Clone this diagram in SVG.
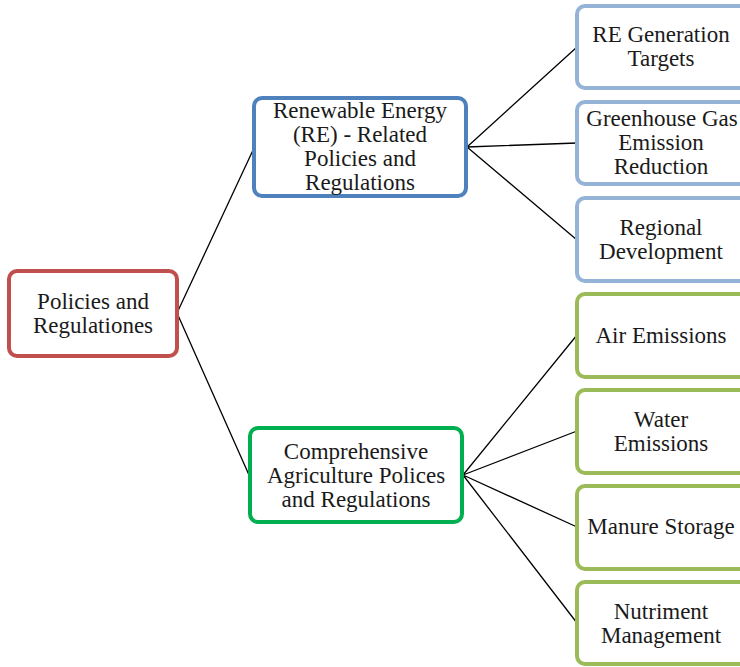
<svg xmlns="http://www.w3.org/2000/svg" width="740" height="667" viewBox="0 0 740 667">
<style>
.box{fill:#fff;stroke-width:4}
.t{font-family:"Liberation Serif","Times New Roman",serif;font-size:23px;fill:#1a1a1a;text-anchor:middle}
.c{stroke:#000;stroke-width:1.3;fill:none}
</style>
<rect width="740" height="667" fill="#fff"/>
<g id="connectors">
<path class="c" d="M177,313 L254,148 M177,313 L249,475"/>
<path class="c" d="M467,147 L577,47 M467,147 L577,143 M467,147 L577,240"/>
<path class="c" d="M463,475 L577,335 M463,475 L577,431 M463,475 L577,527 M463,475 L577,623"/>
</g>
<g id="root"><rect class="box" x="9" y="271" width="168" height="85" rx="8" stroke="#C0504D"/>
<text class="t" x="93" y="309">Policies and</text><text class="t" x="93" y="333">Regulationes</text></g>
<g id="re"><rect class="box" x="254" y="98" width="212" height="98" rx="8" stroke="#4F81BD"/>
<text class="t" x="360" y="118">Renewable Energy</text><text class="t" x="360" y="142">(RE) - Related</text><text class="t" x="360" y="166">Policies and</text><text class="t" x="360" y="190">Regulations</text></g>
<g id="agri"><rect class="box" x="250" y="428" width="212" height="94" rx="8" stroke="#00B050"/>
<text class="t" x="356" y="459">Comprehensive</text><text class="t" x="356" y="483">Agriculture Polices</text><text class="t" x="356" y="507">and Regulations</text></g>
<g id="re-gen"><rect class="box" x="577" y="6" width="170" height="82" rx="8" stroke="#95B3D7"/>
<text class="t" x="661" y="42">RE Generation</text><text class="t" x="661" y="66">Targets</text></g>
<g id="ghg"><rect class="box" x="577" y="102" width="170" height="82" rx="8" stroke="#95B3D7"/>
<text class="t" x="662" y="126">Greenhouse Gas</text><text class="t" x="661" y="150">Emission</text><text class="t" x="661" y="174">Reduction</text></g>
<g id="regional"><rect class="box" x="577" y="198" width="170" height="83" rx="8" stroke="#95B3D7"/>
<text class="t" x="661" y="235">Regional</text><text class="t" x="661" y="259">Development</text></g>
<g id="air"><rect class="box" x="577" y="294" width="170" height="83" rx="8" stroke="#9BBB59"/>
<text class="t" x="661" y="343">Air Emissions</text></g>
<g id="water"><rect class="box" x="577" y="390" width="170" height="83" rx="8" stroke="#9BBB59"/>
<text class="t" x="661" y="427">Water</text><text class="t" x="661" y="451">Emissions</text></g>
<g id="manure"><rect class="box" x="577" y="486" width="170" height="83" rx="8" stroke="#9BBB59"/>
<text class="t" x="661" y="534">Manure Storage</text></g>
<g id="nutriment"><rect class="box" x="577" y="582" width="170" height="82" rx="8" stroke="#9BBB59"/>
<text class="t" x="661" y="619">Nutriment</text><text class="t" x="661" y="643">Management</text></g>
</svg>
